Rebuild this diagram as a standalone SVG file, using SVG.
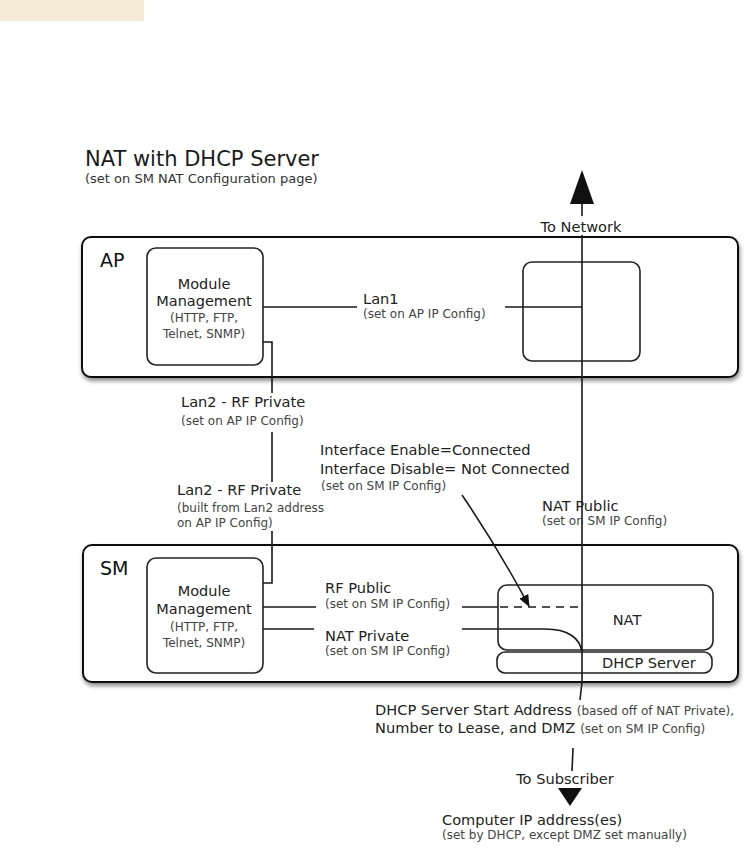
<svg xmlns="http://www.w3.org/2000/svg" width="751" height="858" viewBox="0 0 751 858">
<style>
text{font-family:"DejaVu Sans","Liberation Sans",sans-serif;fill:#222}
.t{font-size:21px;fill:#1a1a1a}
.st{font-size:13px;fill:#333}
.h{font-size:19px;fill:#111}
.l{font-size:14.6px}
.s{font-size:12px;fill:#444}
.m{font-size:14.5px;text-anchor:middle}
.ms{font-size:12px;text-anchor:middle;fill:#444}
.big{fill:#fff;stroke:#111;stroke-width:2}
.box{fill:none;stroke:#222;stroke-width:1.6}
.ln{fill:none;stroke:#1a1a1a;stroke-width:1.6}
</style>
<defs>
<filter id="sh" x="-5%" y="-10%" width="110%" height="130%">
<feDropShadow dx="1" dy="3" stdDeviation="2" flood-color="#000" flood-opacity="0.45"/>
</filter>
<marker id="ah" viewBox="0 0 12 10" refX="11" refY="5" markerWidth="12" markerHeight="10" markerUnits="userSpaceOnUse" orient="auto">
<path d="M0 0 L12 5 L0 10 Z" fill="#111"/>
</marker>
</defs>
<rect x="0" y="0" width="144" height="21" fill="#f5ead6"/>
<g id="title">
<text class="t" x="85" y="166">NAT with DHCP Server</text>
<text class="st" x="85" y="183">(set on SM NAT Configuration page)</text>
</g>
<g id="ap">
<rect class="big" x="82" y="237" width="656" height="140" rx="9" filter="url(#sh)"/>
<text class="h" x="100" y="267">AP</text>
</g>
<g id="ap-module">
<rect class="box" x="147" y="248" width="116" height="117" rx="9"/>
<text class="m" x="204" y="289">Module</text>
<text class="m" x="204" y="306">Management</text>
<text class="ms" x="204" y="322">(HTTP, FTP,</text>
<text class="ms" x="204" y="338">Telnet, SNMP)</text>
</g>
<g id="ap-interface">
<rect class="box" x="523" y="262" width="117" height="99" rx="9"/>
</g>
<g id="sm">
<rect class="big" x="83" y="545" width="655" height="137" rx="9" filter="url(#sh)"/>
<text class="h" x="100" y="575">SM</text>
</g>
<g id="sm-module">
<rect class="box" x="147" y="558" width="116" height="115" rx="9"/>
<text class="m" x="204" y="596">Module</text>
<text class="m" x="204" y="614">Management</text>
<text class="ms" x="204" y="631">(HTTP, FTP,</text>
<text class="ms" x="204" y="647">Telnet, SNMP)</text>
</g>
<g id="nat">
<rect class="box" x="498" y="585" width="215" height="65" rx="9"/>
<text class="l" x="627" y="625" text-anchor="middle">NAT</text>
</g>
<g id="dhcp">
<rect class="box" x="497" y="652" width="215" height="21" rx="8"/>
<text class="l" x="602" y="668">DHCP Server</text>
</g>
<g id="connectors">
<path class="ln" d="M582 203 V216 M582 235 V682 L580 700"/>
<path class="ln" d="M573 748 L572 771"/>
<polygon points="582,170 570,204 594,204" fill="#111"/>
<polygon points="558,788 582,788 570,806" fill="#111"/>
<path class="ln" d="M263 307 H357 M505 307 H582"/>
<path class="ln" d="M263 342 H272 V393 M272 432 V482 M272 531 V583 H263"/>
<path class="ln" d="M263 607 H316 M462 607 H498"/>
<path class="ln" d="M500 607 H582" stroke-dasharray="8 6"/>
<path class="ln" d="M263 629 H314 M462 629 H545 C568 629 580 638 582 652"/>
<path class="ln" d="M462 495 Q498 548 529 606" marker-end="url(#ah)"/>
</g>
<g id="labels">
<text class="l" x="581" y="232" text-anchor="middle">To Network</text>
<text class="l" x="363" y="304">Lan1</text>
<text class="s" x="363" y="318">(set on AP IP Config)</text>
<text class="l" x="181" y="407">Lan2 - RF Private</text>
<text class="s" x="181" y="425">(set on AP IP Config)</text>
<text class="l" x="320" y="455">Interface Enable=Connected</text>
<text class="l" x="320" y="474">Interface Disable= Not Connected</text>
<text class="s" x="321" y="490">(set on SM IP Config)</text>
<text class="l" x="177" y="495">Lan2 - RF Private</text>
<text class="s" x="177" y="512">(built from Lan2 address</text>
<text class="s" x="177" y="527">on AP IP Config)</text>
<text class="l" x="542" y="511">NAT Public</text>
<text class="s" x="542" y="525">(set on SM IP Config)</text>
<text class="l" x="325" y="593">RF Public</text>
<text class="s" x="325" y="608">(set on SM IP Config)</text>
<text class="l" x="325" y="641">NAT Private</text>
<text class="s" x="325" y="655">(set on SM IP Config)</text>
<text x="375" y="715"><tspan class="l">DHCP Server Start Address</tspan><tspan class="s" dx="5">(based off of NAT Private),</tspan></text>
<text x="375" y="733"><tspan class="l">Number to Lease, and DMZ</tspan><tspan class="s" dx="5">(set on SM IP Config)</tspan></text>
<text class="l" x="565" y="784" text-anchor="middle">To Subscriber</text>
<text class="l" x="442" y="825">Computer IP address(es)</text>
<text class="s" x="442" y="839">(set by DHCP, except DMZ set manually)</text>
</g>
</svg>
